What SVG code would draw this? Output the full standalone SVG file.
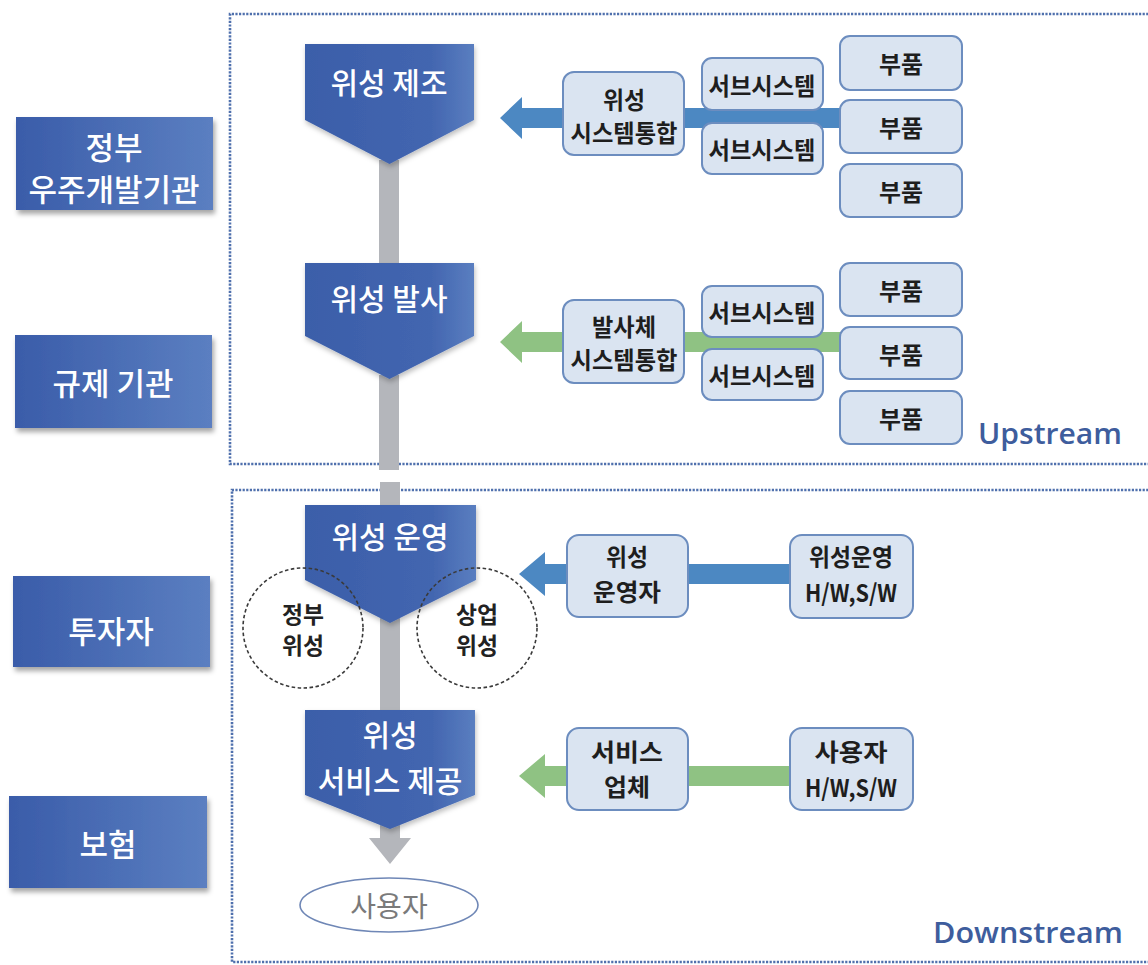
<svg xmlns="http://www.w3.org/2000/svg" width="1148" height="965" viewBox="0 0 1148 965">
<defs>
<linearGradient id="gBlue" x1="0" y1="0" x2="1" y2="0">
<stop offset="0" stop-color="#3a5ca9"/>
<stop offset="1" stop-color="#5b7fc1"/>
</linearGradient>
<linearGradient id="gPent" x1="0" y1="0" x2="1" y2="0">
<stop offset="0" stop-color="#3b5ea9"/>
<stop offset="0.75" stop-color="#4366b0"/>
<stop offset="1" stop-color="#5a7ec0"/>
</linearGradient>
<filter id="shadow" x="-10%" y="-10%" width="125%" height="130%">
<feDropShadow dx="2" dy="4" stdDeviation="2.5" flood-color="#000" flood-opacity="0.35"/>
</filter>
<filter id="shadow2" x="-10%" y="-10%" width="125%" height="130%">
<feDropShadow dx="1" dy="3" stdDeviation="2.5" flood-color="#000" flood-opacity="0.25"/>
</filter>
<style>
.border{fill:none;stroke:#4f70ad;stroke-width:2.6;stroke-dasharray:2.2 1.4;}
.bar{fill:#b4b6bb;}
.pent{fill:url(#gPent);filter:url(#shadow2);}
.lbox{fill:url(#gBlue);filter:url(#shadow);}
.box{fill:#dae4f1;stroke:#6c8dbf;stroke-width:2;}
.circ{fill:none;stroke:#3a3a3a;stroke-width:1.6;stroke-dasharray:3.5 2.5;}
.ablue{fill:#4c88c2;}
.agreen{fill:#8fc283;}
text{font-family:"Noto Sans CJK KR","Noto Sans",sans-serif;text-anchor:middle;dominant-baseline:central;}
.wt{fill:#ffffff;font-size:30px;font-weight:500;}
.lt{fill:#ffffff;font-size:31px;font-weight:500;}
.bt{fill:#1e1e1e;font-size:24px;font-weight:700;}
.ct{fill:#222222;font-size:23px;font-weight:700;}
.ut{fill:#3e5d9d;font-family:"Open Sans","Lato",sans-serif;font-weight:600;font-size:29px;text-anchor:start;dominant-baseline:alphabetic;}
</style>
</defs>
<rect width="1148" height="965" fill="#ffffff"/>

<g id="borders">
<path class="border" d="M1152,14 H230 V464 H1152"/>
<path class="border" d="M1152,490 H232 V962 H1152"/>
</g>

<g id="connectors">
<rect class="bar" x="379" y="160" width="20" height="106"/>
<rect class="bar" x="379" y="375" width="20" height="95"/>
<rect class="bar" x="380" y="482" width="20" height="28"/>
<rect class="bar" x="380" y="618" width="20" height="95"/>
<path class="bar" d="M380,824 H400 V838 H411 L390,864 L369,838 H380 Z"/>
<path class="ablue" d="M500,118 L522,97 V108 H843 V128 H522 V139 Z"/>
<path class="agreen" d="M500,342 L522,321 V332 H843 V352 H522 V363 Z"/>
<path class="ablue" d="M519,574 L545,552 V564 H792 V584 H545 V596 Z"/>
<path class="agreen" d="M519,776 L545,754 V766 H792 V786 H545 V798 Z"/>
</g>

<g id="left-gov">
<rect class="lbox" x="16" y="117" width="197" height="93"/>
<text class="lt" x="114" y="145">정부</text>
<text class="lt" x="114" y="187">우주개발기관</text>
</g>
<g id="left-reg">
<rect class="lbox" x="15" y="335" width="197" height="93"/>
<text class="lt" x="113" y="381">규제 기관</text>
</g>
<g id="left-inv">
<rect class="lbox" x="13" y="576" width="197" height="91"/>
<text class="lt" x="111" y="629">투자자</text>
</g>
<g id="left-ins">
<rect class="lbox" x="9" y="796" width="198" height="92"/>
<text class="lt" x="108" y="842">보험</text>
</g>

<g id="p-manufacture">
<path class="pent" d="M305,44 H474 V120 L389.5,164 L305,120 Z"/>
<text class="wt" x="389" y="81">위성 제조</text>
</g>
<g id="p-launch">
<path class="pent" d="M305,263 H474 V336 L389.5,379 L305,336 Z"/>
<text class="wt" x="389" y="297">위성 발사</text>
</g>
<g id="p-operation">
<path class="pent" d="M305,505 H476 V580 L390,623 L305,580 Z"/>
<text class="wt" x="390" y="535">위성 운영</text>
</g>
<g id="p-service">
<path class="pent" d="M305,710 H475 V795 L390,829 L305,795 Z"/>
<text class="wt" x="390" y="733">위성</text>
<text class="wt" x="390" y="779">서비스 제공</text>
</g>

<g id="c-gov">
<circle class="circ" cx="303" cy="628" r="60"/>
<text class="ct" x="303" y="613" textLength="42" lengthAdjust="spacingAndGlyphs">정부</text>
<text class="ct" x="303" y="644" textLength="42" lengthAdjust="spacingAndGlyphs">위성</text>
</g>
<g id="c-com">
<circle class="circ" cx="477" cy="628" r="60"/>
<text class="ct" x="477" y="613" textLength="42" lengthAdjust="spacingAndGlyphs">상업</text>
<text class="ct" x="477" y="644" textLength="42" lengthAdjust="spacingAndGlyphs">위성</text>
</g>

<g id="user">
<ellipse cx="389" cy="905" rx="89" ry="27" fill="#ffffff" stroke="#6f87b6" stroke-width="1.6"/>
<text x="389" y="905" style="fill:#7a7a7a;font-size:28px;">사용자</text>
</g>

<g id="sat-integ">
<rect class="box" x="563" y="72" width="121" height="83" rx="11"/>
<text class="bt" x="624" y="98" textLength="42" lengthAdjust="spacingAndGlyphs">위성</text>
<text class="bt" x="624" y="131" textLength="107" lengthAdjust="spacingAndGlyphs">시스템통합</text>
</g>
<g id="sat-sub1">
<rect class="box" x="702" y="58" width="121" height="52" rx="10"/>
<text class="bt" x="762" y="84" textLength="107" lengthAdjust="spacingAndGlyphs">서브시스템</text>
</g>
<g id="sat-sub2">
<rect class="box" x="702" y="123" width="121" height="51" rx="10"/>
<text class="bt" x="762" y="148" textLength="107" lengthAdjust="spacingAndGlyphs">서브시스템</text>
</g>
<g id="sat-part1">
<rect class="box" x="840" y="36" width="122" height="54" rx="10"/>
<text class="bt" x="901" y="62" textLength="44" lengthAdjust="spacingAndGlyphs">부품</text>
</g>
<g id="sat-part2">
<rect class="box" x="840" y="100" width="122" height="53" rx="10"/>
<text class="bt" x="901" y="126" textLength="44" lengthAdjust="spacingAndGlyphs">부품</text>
</g>
<g id="sat-part3">
<rect class="box" x="840" y="164" width="122" height="53" rx="10"/>
<text class="bt" x="901" y="190" textLength="44" lengthAdjust="spacingAndGlyphs">부품</text>
</g>

<g id="lv-integ">
<rect class="box" x="563" y="300" width="121" height="83" rx="11"/>
<text class="bt" x="624" y="325" textLength="64" lengthAdjust="spacingAndGlyphs">발사체</text>
<text class="bt" x="624" y="358" textLength="107" lengthAdjust="spacingAndGlyphs">시스템통합</text>
</g>
<g id="lv-sub1">
<rect class="box" x="702" y="286" width="121" height="51" rx="10"/>
<text class="bt" x="762" y="311" textLength="107" lengthAdjust="spacingAndGlyphs">서브시스템</text>
</g>
<g id="lv-sub2">
<rect class="box" x="702" y="349" width="121" height="51" rx="10"/>
<text class="bt" x="762" y="374" textLength="107" lengthAdjust="spacingAndGlyphs">서브시스템</text>
</g>
<g id="lv-part1">
<rect class="box" x="840" y="263" width="122" height="53" rx="10"/>
<text class="bt" x="901" y="289" textLength="44" lengthAdjust="spacingAndGlyphs">부품</text>
</g>
<g id="lv-part2">
<rect class="box" x="840" y="327" width="122" height="52" rx="10"/>
<text class="bt" x="901" y="353" textLength="44" lengthAdjust="spacingAndGlyphs">부품</text>
</g>
<g id="lv-part3">
<rect class="box" x="840" y="391" width="122" height="53" rx="10"/>
<text class="bt" x="901" y="417" textLength="44" lengthAdjust="spacingAndGlyphs">부품</text>
</g>

<g id="operator">
<rect class="box" x="567" y="535" width="121" height="82" rx="12"/>
<text class="bt" x="627" y="555" textLength="42" lengthAdjust="spacingAndGlyphs">위성</text>
<text class="bt" x="627" y="590" textLength="68" lengthAdjust="spacingAndGlyphs">운영자</text>
</g>
<g id="op-hwsw">
<rect class="box" x="790" y="535" width="123" height="83" rx="12"/>
<text class="bt" x="851" y="555" textLength="84" lengthAdjust="spacingAndGlyphs">위성운영</text>
<text class="bt" x="851" y="591" textLength="92" lengthAdjust="spacingAndGlyphs">H/W,S/W</text>
</g>
<g id="provider">
<rect class="box" x="567" y="728" width="121" height="82" rx="12"/>
<text class="bt" x="627" y="750" textLength="72" lengthAdjust="spacingAndGlyphs">서비스</text>
<text class="bt" x="627" y="785" textLength="46" lengthAdjust="spacingAndGlyphs">업체</text>
</g>
<g id="user-hwsw">
<rect class="box" x="790" y="728" width="123" height="82" rx="12"/>
<text class="bt" x="851" y="750" textLength="73" lengthAdjust="spacingAndGlyphs">사용자</text>
<text class="bt" x="851" y="786" textLength="92" lengthAdjust="spacingAndGlyphs">H/W,S/W</text>
</g>

<g id="labels">
<text class="ut" x="978" y="444" textLength="144" lengthAdjust="spacingAndGlyphs">Upstream</text>
<text class="ut" x="933" y="943" textLength="190" lengthAdjust="spacingAndGlyphs">Downstream</text>
</g>
</svg>
